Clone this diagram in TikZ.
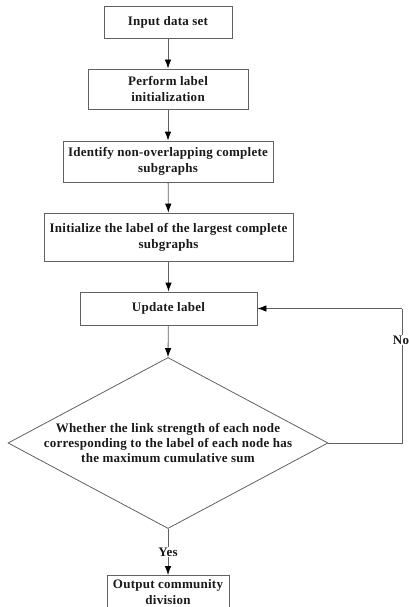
\documentclass[tikz,border=0pt]{standalone}
\usepackage{fontspec}
\setmainfont[LetterSpace=2]{Liberation Serif}
\usetikzlibrary{arrows.meta,shapes.geometric}

\tikzset{
  px/.style={x=1pt,y=-1pt},
  stepbox/.style={draw=black!62, line width=0.8pt, rectangle, inner sep=2pt,
    align=center, font=\fontsize{13}{16}\selectfont\bfseries, text=black!90},
  decision/.style={draw=black!62, line width=0.8pt, diamond, inner sep=0pt},
  qtext/.style={align=center, font=\fontsize{13}{15}\selectfont\bfseries, text=black!90},
  flow/.style={draw=black!62, line width=0.8pt,
    -{Latex[length=9pt,width=6.5pt,black]}},
  plain/.style={draw=black!62, line width=0.8pt},
  answer/.style={fill=white, inner sep=1pt, font=\fontsize{13}{15}\selectfont\bfseries, text=black!90}
}

\begin{document}
\begin{tikzpicture}[px]
  \useasboundingbox (0,0) rectangle (409,607);
  \clip (0,0) rectangle (409,607);

  % process steps
  \node[stepbox, minimum width=128pt, minimum height=32pt] (input) at (168,22) {Input data set};
  \node[stepbox, minimum width=160pt, minimum height=40pt] (init) at (168,89) {Perform label\\initialization};
  \node[stepbox, minimum width=210pt, minimum height=41pt] (ident) at (168,161.5) {Identify non-overlapping complete\\subgraphs};
  \node[stepbox, minimum width=249pt, minimum height=48pt] (largest) at (168.5,237) {Initialize the label of the largest complete\\subgraphs};
  \node[stepbox, minimum width=177pt, minimum height=33pt] (update) at (168.5,308.5) {Update label};

  % convergence test
  \node[decision, minimum width=320pt, minimum height=171pt] (test) at (168,443) {};
  \node[qtext] (testlabel) at (168,443) {Whether the link strength of each node\\corresponding to the label of each node has\\the maximum cumulative sum};

  % result
  \node[stepbox, minimum width=122pt, minimum height=34pt, anchor=north] (output) at (168,575) {Output community\\division};

  % connectors
  \draw[flow] (input) -- (init);
  \draw[flow] (init) -- (ident);
  \draw[flow] (ident) -- (largest);
  \draw[flow] (largest) -- (update);
  \draw[flow] (update) -- (test.north);
  \draw[flow] (test.south) -- node[answer] (yes) {Yes} (output);

  \coordinate (loopdown) at (402,443);
  \coordinate (loopup) at (402,308.5);
  \draw[plain] (test.east) -- (loopdown) -- (loopup);
  \draw[flow] (loopup) -- (update.east);
  \node[answer] (no) at (401,340) {No};
\end{tikzpicture}
\end{document}
